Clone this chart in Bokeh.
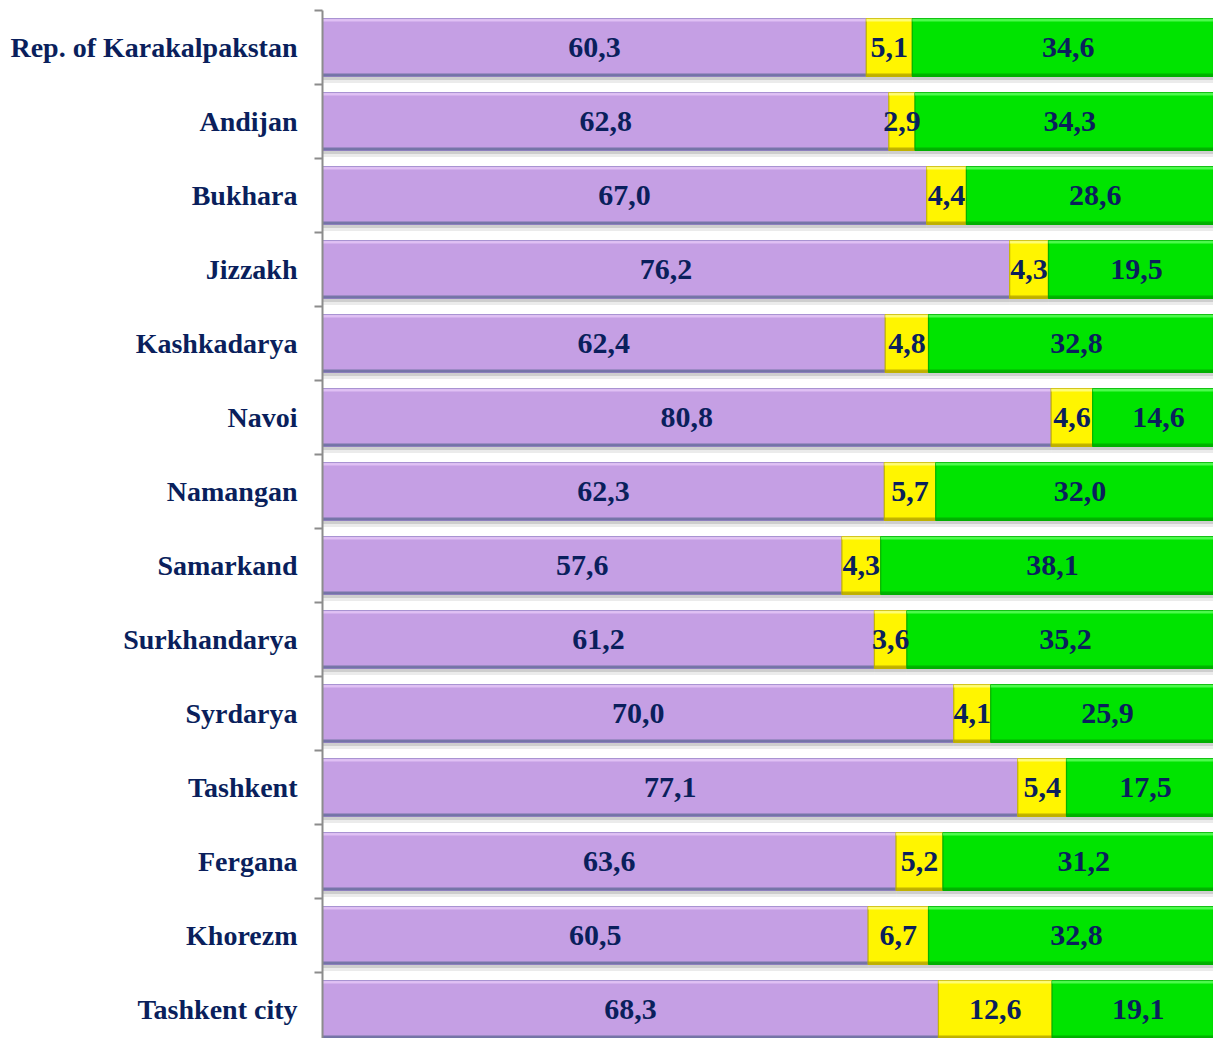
from bokeh.plotting import figure
from bokeh.models import ColumnDataSource, Range1d, FixedTicker, LabelSet
from bokeh.embed import file_html
from bokeh.resources import INLINE

regions = ["Rep. of Karakalpakstan", "Andijan", "Bukhara", "Jizzakh", "Kashkadarya",
           "Navoi", "Namangan", "Samarkand", "Surkhandarya", "Syrdarya", "Tashkent",
           "Fergana", "Khorezm", "Tashkent city"]
share_a = [60.3, 62.8, 67.0, 76.2, 62.4, 80.8, 62.3, 57.6, 61.2, 70.0, 77.1, 63.6, 60.5, 68.3]
share_b = [5.1, 2.9, 4.4, 4.3, 4.8, 4.6, 5.7, 4.3, 3.6, 4.1, 5.4, 5.2, 6.7, 12.6]
share_c = [34.6, 34.3, 28.6, 19.5, 32.8, 14.6, 32.0, 38.1, 35.2, 25.9, 17.5, 31.2, 32.8, 19.1]

colors = ["#C59FE4", "#FFF500", "#00E400"]
top_colors = ["#E6C8F8", "#FFFF90", "#60FF60"]
bottom_colors = ["#56648F", "#A89800", "#00A000"]
edge_colors = ["#9A86C8", "#C8B800", "#00B400"]
TXT = "#0A1F5C"
FONT = "Liberation Serif"
H = 0.78

ys = list(range(len(regions)))
p = figure(width=1213, height=1038, output_backend="svg", toolbar_location=None,
           x_range=Range1d(0, 98.8), y_range=Range1d(13.392, -0.5),
           min_border_left=322, min_border_right=0, min_border_top=10, min_border_bottom=0,
           outline_line_color=None)
p.grid.visible = False
p.xaxis.visible = False

series = [share_a, share_b, share_c]
left = [0.0] * len(regions)
for k, vals in enumerate(series):
    right = [l + v for l, v in zip(left, vals)]
    src = ColumnDataSource(dict(
        y=ys, left=left, right=right,
        mid=[(l + r) / 2 for l, r in zip(left, right)],
        s1=[y + 0.05 for y in ys], s2=[y + 0.09 for y in ys],
        top=[y - H / 2 + 0.02 for y in ys], bot=[y + H / 2 - 0.02 for y in ys],
        txt=[f"{v:.1f}".replace(".", ",") for v in vals]))
    p.hbar(y="s2", left="left", right="right", height=H, source=src,
           fill_color="#000000", fill_alpha=0.08, line_color=None)
    p.hbar(y="s1", left="left", right="right", height=H, source=src,
           fill_color="#000000", fill_alpha=0.12, line_color=None)
    p.hbar(y="y", left="left", right="right", height=H, source=src,
           fill_color=colors[k], line_color=edge_colors[k], line_width=1.2)
    p.hbar(y="top", left="left", right="right", height=0.04, source=src,
           fill_color=top_colors[k], fill_alpha=0.8, line_color=None)
    p.hbar(y="bot", left="left", right="right", height=0.04, source=src,
           fill_color=bottom_colors[k], fill_alpha=0.7, line_color=None)
    lbl = LabelSet(x="mid", y="y", text="txt", source=src, text_align="center",
                   text_baseline="middle", text_font=FONT, text_font_style="bold",
                   text_font_size="30px", text_color=TXT)
    p.add_layout(lbl)
    left = right

ax = p.yaxis[0]
ax.ticker = FixedTicker(ticks=ys, minor_ticks=[y - 0.5 for y in ys] + [len(ys) - 0.5])
ax.major_label_overrides = {i: r for i, r in enumerate(regions)}
ax.major_tick_out = 0
ax.major_tick_in = 0
ax.minor_tick_out = 8
ax.minor_tick_in = 0
ax.minor_tick_line_color = "#8C8C8C"
ax.minor_tick_line_width = 2
ax.axis_line_color = "#8C8C8C"
ax.axis_line_width = 2
ax.major_label_standoff = 17
ax.major_label_text_font = FONT
ax.major_label_text_font_style = "bold"
ax.major_label_text_font_size = "28px"
ax.major_label_text_color = TXT

open("out.html", "w").write(file_html(p, INLINE))
